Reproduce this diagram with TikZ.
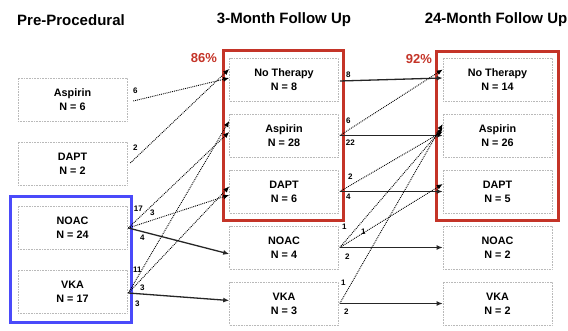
\documentclass[tikz,border=0pt]{standalone}
\usepackage{fontspec}
\setmainfont{Liberation Sans}
\usetikzlibrary{arrows.meta}
\definecolor{framered}{RGB}{196,52,40}
\definecolor{frameblue}{RGB}{74,74,250}
\tikzset{
  grp/.style={draw=gray!55, densely dotted, line width=0.6pt, minimum width=109pt, minimum height=43pt,
    align=center, inner sep=0pt, font=\bfseries\fontsize{10.8}{14}\selectfont},
  ttl/.style={font=\bfseries\fontsize{15}{18}\selectfont},
  pct/.style={text=framered, font=\bfseries\fontsize{13}{15}\selectfont},
  num/.style={inner sep=0pt, font=\bfseries\fontsize{8}{9}\selectfont},
  solidarr/.style={-{Latex[length=6pt,width=5pt]}, line width=1.3pt, black!85},
  dotarr/.style={-{Latex[length=6pt,width=5pt]}, densely dotted, line width=0.9pt},
  redframe/.style={draw=framered, line width=3pt},
  blueframe/.style={draw=frameblue, line width=3pt},
}
\begin{document}
\begin{tikzpicture}[x=1pt, y=-1pt]
    \useasboundingbox (0,0) rectangle (568,331);

    % column titles
    \node[ttl] (tpre) at (71,20) {Pre-Procedural};
    \node[ttl] (tthree) at (284,20) {3-Month Follow Up};
    \node[ttl] (ttwenty) at (496,20) {24-Month Follow Up};

    % pre-procedural
    \node[grp] (lasp) at (72.5,99.5) {Aspirin\\N = 6};
    \node[grp] (ldapt) at (72.5,163.5) {DAPT\\N = 2};
    \node[grp] (lnoac) at (72.5,227.5) {NOAC\\N = 24};
    \node[grp] (lvka) at (72.5,291.5) {VKA\\N = 17};

    % 3 months
    \node[grp] (mnt) at (284,79.5) {No Therapy\\N = 8};
    \node[grp] (masp) at (284,135.5) {Aspirin\\N = 28};
    \node[grp] (mdapt) at (284,191.5) {DAPT\\N = 6};
    \node[grp] (mnoac) at (284,247.5) {NOAC\\N = 4};
    \node[grp] (mvka) at (284,303.5) {VKA\\N = 3};

    % 24 months
    \node[grp] (rnt) at (497.5,79.5) {No Therapy\\N = 14};
    \node[grp] (rasp) at (497.5,135.5) {Aspirin\\N = 26};
    \node[grp] (rdapt) at (497.5,191.5) {DAPT\\N = 5};
    \node[grp] (rnoac) at (497.5,247.5) {NOAC\\N = 2};
    \node[grp] (rvka) at (497.5,303.5) {VKA\\N = 2};

    % frames
    \draw[blueframe] ([shift={(-7,-9)}]lnoac.north west) rectangle ([shift={(4,9)}]lvka.south east);
    \draw[redframe] ([shift={(-6,-7)}]mnt.north west) rectangle ([shift={(5,7)}]mdapt.south east);
    \draw[redframe] ([shift={(-6,-6)}]rnt.north west) rectangle ([shift={(6,7)}]rdapt.south east);
    \node[pct] (pthree) at (204,58) {86\%};
    \node[pct] (ptwenty) at (419,59) {92\%};

    % pre-procedural -> 3 months
    \draw[dotarr] ([shift={(6,1.5)}]lasp.east) -- ([yshift=1.5]mnt.west);
    \draw[dotarr] ([shift={(3,-0.5)}]ldapt.east) -- ([yshift=10.5]mnt.west);
    \draw[dotarr] ([shift={(1,0.5)}]lnoac.east) -- ([yshift=3.5]masp.west);
    \draw[dotarr] ([shift={(1,0.5)}]lnoac.east) -- ([yshift=-3.5]mdapt.west);
    \draw[solidarr] ([shift={(1,0.5)}]lnoac.east) -- ([yshift=-6.5]mnoac.west);
    \draw[dotarr] ([shift={(1,1.5)}]lvka.east) -- ([yshift=14.5]masp.west);
    \draw[dotarr] ([shift={(1,1.5)}]lvka.east) -- ([yshift=5]mdapt.west);
    \draw[solidarr] ([shift={(1,1.5)}]lvka.east) -- ([yshift=3]mvka.west);

    \node[num] (na) at ([shift={(8,-8.5)}]lasp.east) {6};
    \node[num] (nb) at ([shift={(8,-15.5)}]ldapt.east) {2};
    \node[num] (nc) at ([shift={(11,-18.5)}]lnoac.east) {17};
    \node[num] (nd) at ([shift={(25,-14.5)}]lnoac.east) {3};
    \node[num] (ne) at ([shift={(15,10.5)}]lnoac.east) {4};
    \node[num] (nf) at ([shift={(10,-21.5)}]lvka.east) {11};
    \node[num] (ng) at ([shift={(15,-3.5)}]lvka.east) {3};
    \node[num] (nh) at ([shift={(10,12.5)}]lvka.east) {3};

    % 3 months -> 24 months
    \draw[solidarr] ([shift={(1,1.5)}]mnt.east) -- ([yshift=1.5]rnt.west);
    \draw[dotarr] ([xshift=1]masp.east) -- ([yshift=10]rnt.west);
    \draw[solidarr] ([xshift=1]masp.east) -- (rasp.west);
    \draw[dotarr] ([xshift=1]mdapt.east) -- ([yshift=4]rasp.west);
    \draw[solidarr] ([xshift=1]mdapt.east) -- (rdapt.west);
    \draw[dotarr] ([xshift=1]mnoac.east) -- ([yshift=7.5]rasp.west);
    \draw[dotarr] ([xshift=1]mnoac.east) -- ([yshift=7.5]rdapt.west);
    \draw[solidarr] ([xshift=1]mnoac.east) -- (rnoac.west);
    \draw[dotarr] ([xshift=1]mvka.east) -- ([yshift=11.5]rasp.west);
    \draw[solidarr] ([xshift=1]mvka.east) -- (rvka.west);

    \node[num] (ni) at ([shift={(9.5,-4.5)}]mnt.east) {8};
    \node[num] (nj) at ([shift={(9.5,-14.5)}]masp.east) {6};
    \node[num] (nk) at ([shift={(11.5,7.5)}]masp.east) {22};
    \node[num] (nl) at ([shift={(11.5,-14.5)}]mdapt.east) {2};
    \node[num] (nm) at ([shift={(9.5,5.5)}]mdapt.east) {4};
    \node[num] (nn) at ([shift={(5.5,-20.5)}]mnoac.east) {1};
    \node[num] (no) at ([shift={(24.5,-15.5)}]mnoac.east) {1};
    \node[num] (np) at ([shift={(8.5,9.5)}]mnoac.east) {2};
    \node[num] (nq) at ([shift={(4.5,-20.5)}]mvka.east) {1};
    \node[num] (nr) at ([shift={(7.5,8.5)}]mvka.east) {2};
\end{tikzpicture}
\end{document}
